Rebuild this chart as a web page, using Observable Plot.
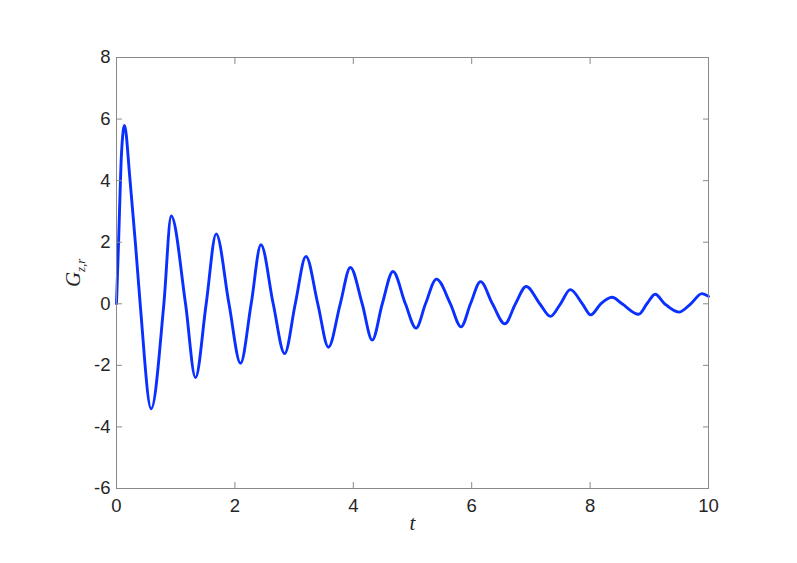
<!DOCTYPE html>
<html>
<head>
<meta charset="utf-8">
<script src="https://cdn.jsdelivr.net/npm/d3@7"></script>
<script src="https://cdn.jsdelivr.net/npm/@observablehq/plot@0.6"></script>
<style>
  html, body { margin: 0; padding: 0; background: #fff; }
</style>
</head>
<body>
<div id="chart"></div>
<script>
// Time samples (t): extrema and zero crossings
const tValues = [
  0, 0.035, 0.085, 0.135, 0.225, 0.32, 0.40, 0.586, 0.80, 0.924,
  1.166, 1.334, 1.515, 1.684, 1.90, 2.095, 2.275, 2.44, 2.647, 2.84,
  3.02, 3.20, 3.40, 3.58, 3.78, 3.95, 4.15, 4.32, 4.49, 4.67,
  4.88, 5.06, 5.22, 5.405, 5.64, 5.82, 5.98, 6.15, 6.35, 6.56,
  6.74, 6.92, 7.15, 7.33, 7.50, 7.665, 7.87, 8.01, 8.18, 8.37,
  8.54, 8.82, 8.96, 9.10, 9.26, 9.50, 9.70, 9.89, 10.0
];
// G_{z,r} values at those times
const gValues = [
  0, 2.0, 4.9, 5.79, 4.1, 1.95, 0, -3.41, 0, 2.85,
  0, -2.40, 0, 2.27, 0, -1.93, 0, 1.92, 0, -1.62,
  0, 1.54, 0, -1.41, 0, 1.18, 0, -1.18, 0, 1.05,
  0, -0.79, 0, 0.80, 0, -0.75, 0, 0.72, 0, -0.65,
  0, 0.56, 0, -0.41, 0, 0.46, 0, -0.36, 0, 0.21,
  0, -0.34, 0, 0.31, 0, -0.27, 0, 0.33, 0.24
];
const xTicks = [0, 2, 4, 6, 8, 10];
const yTicks = [-6, -4, -2, 0, 2, 4, 6, 8];
const xLabel = "t";
const yLabelMain = "G";
const yLabelSub = "z,r";

const data = tValues.map((t, i) => ({t, g: gValues[i]}));

const boxColor = "#8a8a8a";
const textColor = "#262626";
const serif = "'Liberation Serif', 'DejaVu Serif', serif";

const chart = Plot.plot({
  width: 797,
  height: 563,
  marginLeft: 116,
  marginRight: 89,
  marginTop: 57,
  marginBottom: 75,
  style: {fontFamily: "'Liberation Sans', Arial, Helvetica, sans-serif", fontSize: "18.5px", color: textColor, background: "#fff"},
  x: {domain: [0, 10]},
  y: {domain: [-6, 8]},
  marks: [
    Plot.line(data, {x: "t", y: "g", stroke: "#0a30ff", strokeWidth: 2.9, curve: "monotone-x"}),
    Plot.frame({stroke: boxColor, strokeWidth: 1}),
    // tick labels
    Plot.axisX(xTicks, {anchor: "bottom", tickSize: 0, tickPadding: 10, label: null, tickFormat: d => String(d)}),
    Plot.axisY(yTicks, {anchor: "left", tickSize: 0, tickPadding: 6, label: null, tickFormat: d => String(d)}),
    // inward ticks on all four sides
    Plot.axisX(xTicks, {anchor: "bottom", tickSize: -6, label: null, tickFormat: () => "", stroke: boxColor}),
    Plot.axisX(xTicks, {anchor: "top", tickSize: -6, label: null, tickFormat: () => "", stroke: boxColor}),
    Plot.axisY(yTicks, {anchor: "left", tickSize: -6, label: null, tickFormat: () => "", stroke: boxColor}),
    Plot.axisY(yTicks, {anchor: "right", tickSize: -6, label: null, tickFormat: () => "", stroke: boxColor}),
    // axis titles
    Plot.text([xLabel], {frameAnchor: "bottom", dy: 41, text: d => d, fontFamily: serif, fontStyle: "italic", fontSize: 21, fill: textColor}),
    Plot.text([yLabelMain], {frameAnchor: "left", dx: -43, dy: 14, rotate: -90, text: d => d, fontFamily: serif, fontStyle: "italic", fontSize: 21, fill: textColor}),
    Plot.text([yLabelSub], {frameAnchor: "left", dx: -36, dy: -1, rotate: -90, text: d => d, fontFamily: serif, fontStyle: "italic", fontSize: 13, fill: textColor})
  ]
});
document.getElementById("chart").appendChild(chart);
</script>
</body>
</html>
